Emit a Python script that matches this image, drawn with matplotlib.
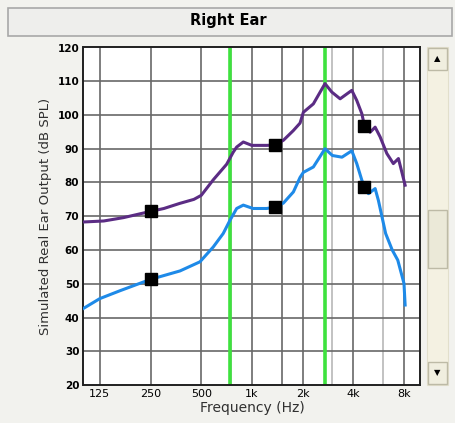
import matplotlib.pyplot as plt
from matplotlib.patches import Rectangle
import numpy as np

plt.rcParams['font.family'] = ['DejaVu Sans']

# 曲线数据（频率 Hz，输出 dB SPL）
loud_freq = [100, 132, 173, 248, 300, 372, 452, 500, 589, 707, 774, 811, 888, 997,
             1223, 1370, 1535, 1760, 1928, 2017, 2313, 2712, 2975, 3334, 3911, 4186,
             4485, 4650, 5025, 5380, 5762, 6311, 6900, 7397, 8105]
loud_db = [68.3, 68.6, 69.6, 71.4, 72.3, 73.8, 75.0, 76.2, 80.8, 85.4, 89.0, 90.5, 92.0, 91.0,
           91.0, 91.1, 92.5, 95.4, 97.6, 100.8, 103.3, 109.3, 106.8, 104.8, 107.3, 104.3,
           100.4, 96.8, 94.9, 96.4, 93.5, 88.6, 85.6, 87.1, 79.2]

soft_freq = [100, 125, 164, 250, 374, 491, 589, 675, 740, 811, 888, 1014, 1223, 1370,
             1535, 1760, 1928, 2017, 2313, 2712, 3000, 3420, 3911, 4186, 4485, 4650,
             4910, 5380, 5625, 6210, 6795, 7330, 7980, 8105]
soft_db = [42.7, 45.6, 47.9, 51.3, 53.8, 56.5, 60.9, 64.9, 68.8, 72.3, 73.3, 72.3, 72.3, 72.7,
           73.9, 77.2, 81.5, 83.0, 84.6, 90.0, 88.0, 87.5, 89.4, 85.6, 80.7, 78.6,
           76.7, 78.2, 74.7, 64.9, 60.0, 57.0, 50.1, 43.7]

marker_freq = [250, 1370, 4650]
loud_marker = [71.5, 91.0, 96.8]
soft_marker = [51.3, 72.7, 78.6]

crossover = [745, 2700]

xticks = [125, 250, 500, 1000, 2000, 4000, 8000]
xticklabels = ['125', '250', '500', '1k', '2k', '4k', '8k']
minor_grid = [1500]
light_grid = [750, 3000, 6000]
yticks = list(range(20, 121, 10))

W, H = 456, 423
fig = plt.figure(figsize=(W / 100, H / 100), dpi=100, facecolor='#f2f2ee')

# 标题栏
fig.patches.append(Rectangle((8 / W, 1 - 36 / H), 444 / W, 28 / H, transform=fig.transFigure,
                             facecolor='#eeeeec', edgecolor='#a8a8a8', lw=1.2))
fig.text(0.5, 1 - 21 / H, 'Right Ear', ha='center', va='center', fontsize=10.5, fontweight='bold')

ax = fig.add_axes([83.5 / W, 1 - 385 / H, 337 / W, 337.5 / H])
ax.set_xscale('log')
ax.set_xlim(100, 10000)
ax.set_ylim(20, 120)

for f in xticks + minor_grid:
    ax.axvline(f, color='#686868', lw=1.2, zorder=1)
for f in light_grid:
    ax.axvline(f, color='#b8b8b8', lw=1.2, zorder=1)
for y in yticks[1:-1]:
    ax.axhline(y, color='#686868', lw=1.2, zorder=1)
for f in crossover:
    ax.axvline(f, color='#3ee23e', lw=2.6, zorder=2)

ax.plot(loud_freq, loud_db, color='#5b2c84', lw=2.2, zorder=3)
ax.plot(soft_freq, soft_db, color='#1e8ae8', lw=2.2, zorder=3)
ax.plot(marker_freq, loud_marker, 's', color='black', ms=8, zorder=4)
ax.plot(marker_freq, soft_marker, 's', color='black', ms=8, zorder=4)

ax.set_xticks(xticks)
ax.set_xticklabels(xticklabels)
ax.xaxis.set_minor_locator(plt.NullLocator())
ax.set_yticks(yticks)
ax.tick_params(axis='both', length=0, pad=3)
for lab in ax.get_yticklabels():
    lab.set_fontsize(7.5)
    lab.set_fontweight('bold')
for lab in ax.get_xticklabels():
    lab.set_fontsize(8)
for s in ax.spines.values():
    s.set_color('#202020')
    s.set_linewidth(1.4)
ax.set_xlabel('Frequency (Hz)', fontsize=10, labelpad=1, color='#303030')
ax.set_ylabel('Simulated Real Ear Output (dB SPL)', fontsize=9.5, labelpad=4, color='#303030')

# 右侧滚动条
fig.patches.append(Rectangle((427 / W, 1 - 385 / H), 21 / W, 338 / H, transform=fig.transFigure,
                             facecolor='#f4f1e2', edgecolor='#e2dfcc', lw=0.8))
for top in (48, 362):
    fig.patches.append(Rectangle((428 / W, 1 - (top + 22) / H), 19 / W, 22 / H,
                                 transform=fig.transFigure, facecolor='#f0eedf',
                                 edgecolor='#bdbaa6', lw=1))
fig.patches.append(Rectangle((428 / W, 1 - 268 / H), 19 / W, 58 / H, transform=fig.transFigure,
                             facecolor='#ebe9d8', edgecolor='#bdbaa6', lw=1))
fig.text(437.5 / W, 1 - 59 / H, '▲', ha='center', va='center', fontsize=6)
fig.text(437.5 / W, 1 - 373 / H, '▼', ha='center', va='center', fontsize=6)

fig.savefig('out.png', dpi=100, facecolor=fig.get_facecolor())
